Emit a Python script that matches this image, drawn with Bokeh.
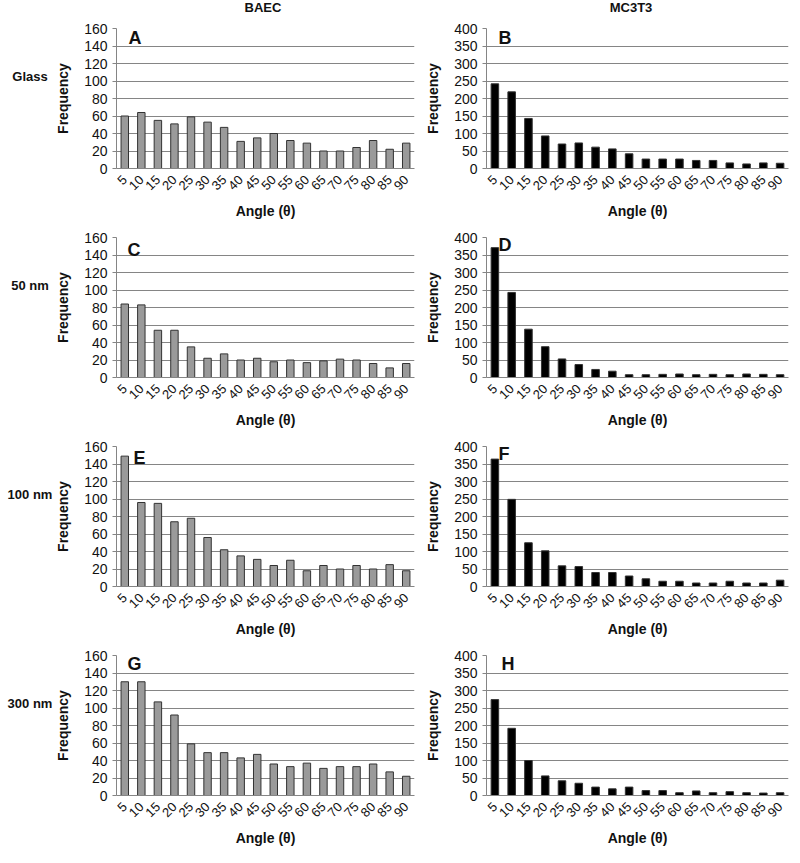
import math
from bokeh.plotting import figure
from bokeh.models import FactorRange, Range1d, FixedTicker, Label, Div
from bokeh.layouts import column, row
from bokeh.embed import file_html
from bokeh.resources import INLINE

angles = ["5", "10", "15", "20", "25", "30", "35", "40", "45",
          "50", "55", "60", "65", "70", "75", "80", "85", "90"]

cell_types = ["BAEC", "MC3T3"]
substrates = ["Glass", "50 nm", "100 nm", "300 nm"]
panel_letters = [["A", "B"], ["C", "D"], ["E", "F"], ["G", "H"]]

baec_glass = [60, 64, 55, 51, 59, 53, 47, 31, 35, 40, 32, 29, 20, 20, 24, 32, 22, 29]
baec_50 = [84, 83, 54, 54, 35, 22, 27, 20, 22, 18, 20, 17, 19, 21, 20, 16, 11, 16]
baec_100 = [149, 96, 95, 74, 78, 56, 42, 35, 31, 24, 30, 18, 24, 20, 24, 20, 25, 18]
baec_300 = [130, 130, 107, 92, 59, 49, 49, 43, 47, 36, 33, 37, 31, 33, 33, 36, 27, 22]

mc3t3_glass = [242, 219, 143, 93, 70, 73, 61, 56, 42, 27, 27, 27, 23, 23, 16, 13, 16, 15]
mc3t3_50 = [371, 243, 138, 88, 53, 37, 23, 18, 8, 8, 9, 10, 8, 9, 8, 10, 9, 8]
mc3t3_100 = [364, 249, 125, 102, 59, 57, 40, 40, 30, 22, 15, 15, 10, 10, 15, 10, 10, 18]
mc3t3_300 = [274, 192, 100, 56, 42, 35, 24, 19, 24, 14, 14, 8, 13, 8, 11, 8, 7, 8]

baec_ticks = [0, 20, 40, 60, 80, 100, 120, 140, 160]
mc3t3_ticks = [0, 50, 100, 150, 200, 250, 300, 350, 400]

baec_series = [baec_glass, baec_50, baec_100, baec_300]
mc3t3_series = [mc3t3_glass, mc3t3_50, mc3t3_100, mc3t3_300]

# placement of the panel letters (synthetic x position, pixel offset upward)
letter_x = [[0.73, 0.71], [0.66, 0.71], [1.03, 0.71], [0.66, 0.9]]
letter_dy = [[1, 1], [-2, 3], [-1, 3], [2, 2]]

FONT = "Liberation Sans"
GRID = "#858585"
FIG_H = 209


def panel(values, ticks, letter, lx, ldy, fill, frame_w, border_l, border_r):
    p = figure(x_range=FactorRange(*angles), y_range=Range1d(ticks[0], ticks[-1]),
               frame_width=frame_w, frame_height=140,
               min_border_left=border_l, min_border_right=border_r,
               min_border_top=12, min_border_bottom=FIG_H - 152,
               output_backend="svg", toolbar_location=None,
               outline_line_color=None, background_fill_color="white",
               border_fill_color="white")
    p.vbar(x=angles, top=values, width=0.45, fill_color=fill,
           line_color="#333333", line_width=1)
    p.xgrid.grid_line_color = None
    p.ygrid.ticker = FixedTicker(ticks=ticks[1:-1])
    p.ygrid.grid_line_color = GRID
    p.ygrid.grid_line_width = 1

    p.yaxis.ticker = FixedTicker(ticks=ticks)
    p.yaxis.axis_label = "Frequency"
    p.yaxis.axis_label_text_font = FONT
    p.yaxis.axis_label_text_font_style = "bold"
    p.yaxis.axis_label_text_font_size = "14px"
    p.yaxis.axis_label_text_color = "#111111"
    p.yaxis.axis_label_standoff = 10
    p.yaxis.major_label_text_font = FONT
    p.yaxis.major_label_text_font_size = "14px"
    p.yaxis.major_label_text_color = "#111111"
    p.yaxis.major_label_standoff = 5
    p.yaxis.axis_line_color = GRID
    p.yaxis.major_tick_line_color = GRID
    p.yaxis.major_tick_out = 4
    p.yaxis.major_tick_in = 0
    p.yaxis.minor_tick_line_color = None

    p.xaxis.axis_label = "Angle (\u03b8)"
    p.xaxis.axis_label_text_font = FONT
    p.xaxis.axis_label_text_font_style = "bold"
    p.xaxis.axis_label_text_font_size = "14px"
    p.xaxis.axis_label_text_color = "#111111"
    p.xaxis.axis_label_standoff = 6
    p.xaxis.major_label_text_font = FONT
    p.xaxis.major_label_text_font_size = "13px"
    p.xaxis.major_label_text_color = "#111111"
    p.xaxis.major_label_orientation = math.pi / 4
    p.xaxis.major_label_standoff = 3
    p.xaxis.axis_line_color = GRID
    p.xaxis.major_tick_line_color = None
    p.xaxis.minor_tick_line_color = None

    p.add_layout(Label(x=lx, y=ticks[-1], y_offset=ldy, text=letter, text_font=FONT,
                       text_font_style="bold", text_font_size="18px",
                       text_color="#111111", text_align="left",
                       text_baseline="top"))
    return p


header_html = (
    '<div style="position:relative;width:787px;height:16px;">'
    f'<span style="position:absolute;left:263px;top:0px;transform:translateX(-50%);'
    f'font:bold 13px \'{FONT}\';color:#111;white-space:nowrap;">{cell_types[0]}</span>'
    f'<span style="position:absolute;left:631px;top:0px;transform:translateX(-50%);'
    f'font:bold 13px \'{FONT}\';color:#111;white-space:nowrap;">{cell_types[1]}</span>'
    '</div>'
)
rows = [Div(text=header_html, width=787, height=16, margin=0)]

for i, sub in enumerate(substrates):
    lab_html = (
        f'<div style="position:relative;width:52px;height:100px;">'
        f'<span style="position:absolute;left:30px;top:53px;transform:translateX(-50%);'
        f'font:bold 13px \'{FONT}\';color:#111;white-space:nowrap;">{sub}</span></div>'
    )
    lab = Div(text=lab_html, width=52, height=FIG_H, margin=0)
    left = panel(baec_series[i], baec_ticks, panel_letters[i][0], letter_x[i][0],
                 letter_dy[i][0], "#9a9a9a", 298, 62, 8)
    right = panel(mc3t3_series[i], mc3t3_ticks, panel_letters[i][1], letter_x[i][1],
                  letter_dy[i][1], "#000000", 302, 60, 5)
    rows.append(row(lab, left, right))

layout = column(*rows)

with open("out.html", "w") as f:
    f.write(file_html(layout, INLINE))
